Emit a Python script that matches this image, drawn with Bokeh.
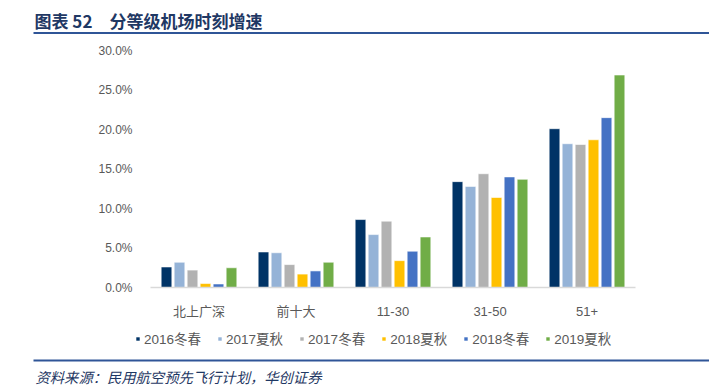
from bokeh.plotting import figure
from bokeh.models import (Range1d, Legend, LegendItem, FixedTicker,
                          NumeralTickFormatter, ColumnDataSource)
from bokeh.core.properties import value
from bokeh.embed import file_html
from bokeh.resources import INLINE

categories = ["北上广深", "前十大", "11-30", "31-50", "51+"]
series_names = ["2016冬春", "2017夏秋", "2017冬春", "2018夏秋", "2018冬春", "2019夏秋"]
s2016_ws = [0.026, 0.045, 0.086, 0.134, 0.201]
s2017_sa = [0.032, 0.044, 0.067, 0.128, 0.182]
s2017_ws = [0.022, 0.029, 0.084, 0.144, 0.181]
s2018_sa = [0.005, 0.017, 0.034, 0.114, 0.187]
s2018_ws = [0.0045, 0.021, 0.046, 0.140, 0.215]
s2019_sa = [0.025, 0.032, 0.064, 0.137, 0.269]
series_values = [s2016_ws, s2017_sa, s2017_ws, s2018_sa, s2018_ws, s2019_sa]
y_ticks = [0.0, 0.05, 0.10, 0.15, 0.20, 0.25, 0.30]
colors = ["#003366", "#95B3D7", "#B2B2B2", "#FFC000", "#4472C4", "#70AD47"]
title_text = "图表 52　分等级机场时刻增速"
source_text = "资料来源：民用航空预先飞行计划，华创证券"

W, H = 709, 389
# plot-area geometry (pixels on the page)
PX_L, PX_R, PX_Y0, PX_Y30 = 150, 635, 287, 50
n = len(categories)
xs_per_px = n / (PX_R - PX_L)
ys_per_px = 0.30 / (PX_Y0 - PX_Y30)

p = figure(width=W, height=H,
           x_range=Range1d(-PX_L * xs_per_px, n + (W - PX_R) * xs_per_px),
           y_range=Range1d(-(H - PX_Y0) * ys_per_px, 0.30 + PX_Y30 * ys_per_px),
           output_backend="svg", toolbar_location=None, min_border=0)
p.outline_line_color = None
p.xgrid.grid_line_color = None
p.ygrid.grid_line_color = None
p.extra_x_ranges = {"px": Range1d(0, W)}
p.extra_y_ranges = {"px": Range1d(H, 0)}

cat_x = [k + 0.5 for k in range(n)]
data = {"x": cat_x}
for i, v in enumerate(series_values):
    data[f"s{i}"] = v
    data[f"x{i}"] = [c + (i - 2.5) * 0.134 for c in cat_x]
src = ColumnDataSource(data)

items = []
for i, name in enumerate(series_names):
    r = p.vbar(x=f"x{i}", top=f"s{i}", width=0.11, source=src,
               fill_color=colors[i], line_color="white", line_width=0.6)
    items.append(LegendItem(label=name, renderers=[r]))

FONT = "'Liberation Sans', 'Noto Sans CJK SC', sans-serif"

ya = p.yaxis[0]
ya.fixed_location = 0
ya.bounds = (0, 0.30)
ya.ticker = FixedTicker(ticks=y_ticks)
ya.formatter = NumeralTickFormatter(format="0.0%")
ya.axis_line_color = None
ya.major_tick_line_color = None
ya.minor_tick_line_color = None
ya.major_label_standoff = 12
ya.major_label_text_font = FONT
ya.major_label_text_font_size = "12px"
ya.major_label_text_color = "#595959"

xa = p.xaxis[0]
xa.fixed_location = 0
xa.bounds = (0, n)
xa.ticker = FixedTicker(ticks=cat_x)
xa.major_label_overrides = {c: lab for c, lab in zip(cat_x, categories)}
xa.axis_line_color = "#D9D9D9"
xa.axis_line_width = 1.5
xa.major_tick_line_color = None
xa.minor_tick_line_color = None
xa.major_label_standoff = 10
xa.major_label_text_font = FONT
xa.major_label_text_font_size = "13px"
xa.major_label_text_color = "#595959"

legend = Legend(items=items, orientation="horizontal", location=(135, 41),
                glyph_width=5, glyph_height=5, label_standoff=4, spacing=16,
                label_text_font=FONT, label_text_font_size="13.5px", label_text_color="#595959",
                border_line_color=None, background_fill_alpha=0, padding=0, margin=0)
p.add_layout(legend, "center")

# header and footer decorations in page-pixel coordinates
p.text(x=[34], y=[20], text=[title_text], x_range_name="px", y_range_name="px",
       text_font=value("Noto Sans CJK SC"), text_font_style="bold", text_font_size="17px",
       text_color="#1F3864", text_baseline="middle", text_align="left")
p.segment(x0=[33, 33], y0=[32.5, 360], x1=[W, W], y1=[32.5, 360], x_range_name="px", y_range_name="px",
          line_color="#2F5597", line_width=2)
p.text(x=[35], y=[376], text=[source_text], x_range_name="px", y_range_name="px",
       text_font=value("Noto Sans CJK SC"), text_font_style="italic", text_font_size="14.3px",
       text_color="#1F3864", text_baseline="middle", text_align="left")

open("out.html", "w").write(file_html(p, INLINE))
